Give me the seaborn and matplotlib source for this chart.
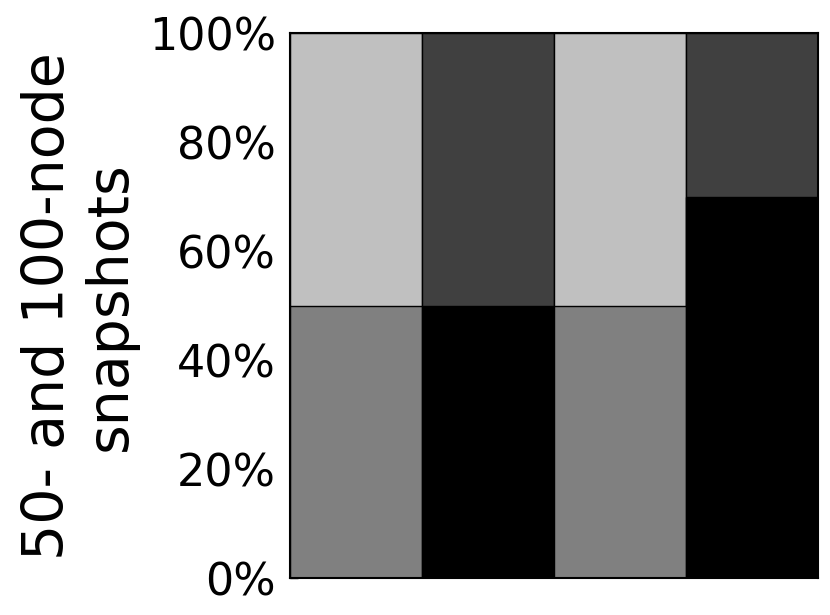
import matplotlib
matplotlib.use('Agg')
import matplotlib.pyplot as plt
import seaborn as sns
from matplotlib.ticker import MultipleLocator, FuncFormatter

# values (percent of snapshots)
groups = ['g1', 'g2', 'g3', 'g4']
bottom_share = [50, 50, 50, 70]
top_share = [50, 50, 50, 30]
bottom_colors = ['#808080', '#000000', '#808080', '#000000']
top_colors = ['#c0c0c0', '#404040', '#c0c0c0', '#404040']

sns.set_style('ticks')
plt.rcParams['font.family'] = ['DejaVu Sans']
plt.rcParams['text.color'] = 'black'
plt.rcParams['axes.labelcolor'] = 'black'

fig = plt.figure(figsize=(8.3, 6.15), dpi=100)
ax = fig.add_axes([0.349, 0.060, 0.637, 0.886])

totals = [b + t for b, t in zip(bottom_share, top_share)]
sns.barplot(x=groups, y=totals, hue=groups, palette=top_colors, width=1.0,
            edgecolor='black', linewidth=1, legend=False, ax=ax)
sns.barplot(x=groups, y=bottom_share, hue=groups, palette=bottom_colors, width=1.0,
            edgecolor='black', linewidth=1, legend=False, ax=ax)

ax.set_xlim(-0.5, 3.5)
ax.set_ylim(0, 100)
ax.set_xticks([])
ax.set_xlabel('')
ax.yaxis.set_major_locator(MultipleLocator(20))
ax.yaxis.set_minor_locator(MultipleLocator(10))
ax.yaxis.set_major_formatter(FuncFormatter(lambda v, p: f'{int(v)}%'))
ax.tick_params(axis='y', which='major', direction='in', length=6, width=1,
               labelsize=32, pad=10, color='black', labelcolor='black')
ax.tick_params(axis='y', which='minor', direction='in', length=3, width=1, color='black')
for s in ax.spines.values():
    s.set_visible(True)
    s.set_linewidth(1.5)
    s.set_color('black')
ax.set_ylabel('50- and 100-node\nsnapshots', fontsize=41, labelpad=8, linespacing=1.15)

fig.savefig('out.png', dpi=100)
